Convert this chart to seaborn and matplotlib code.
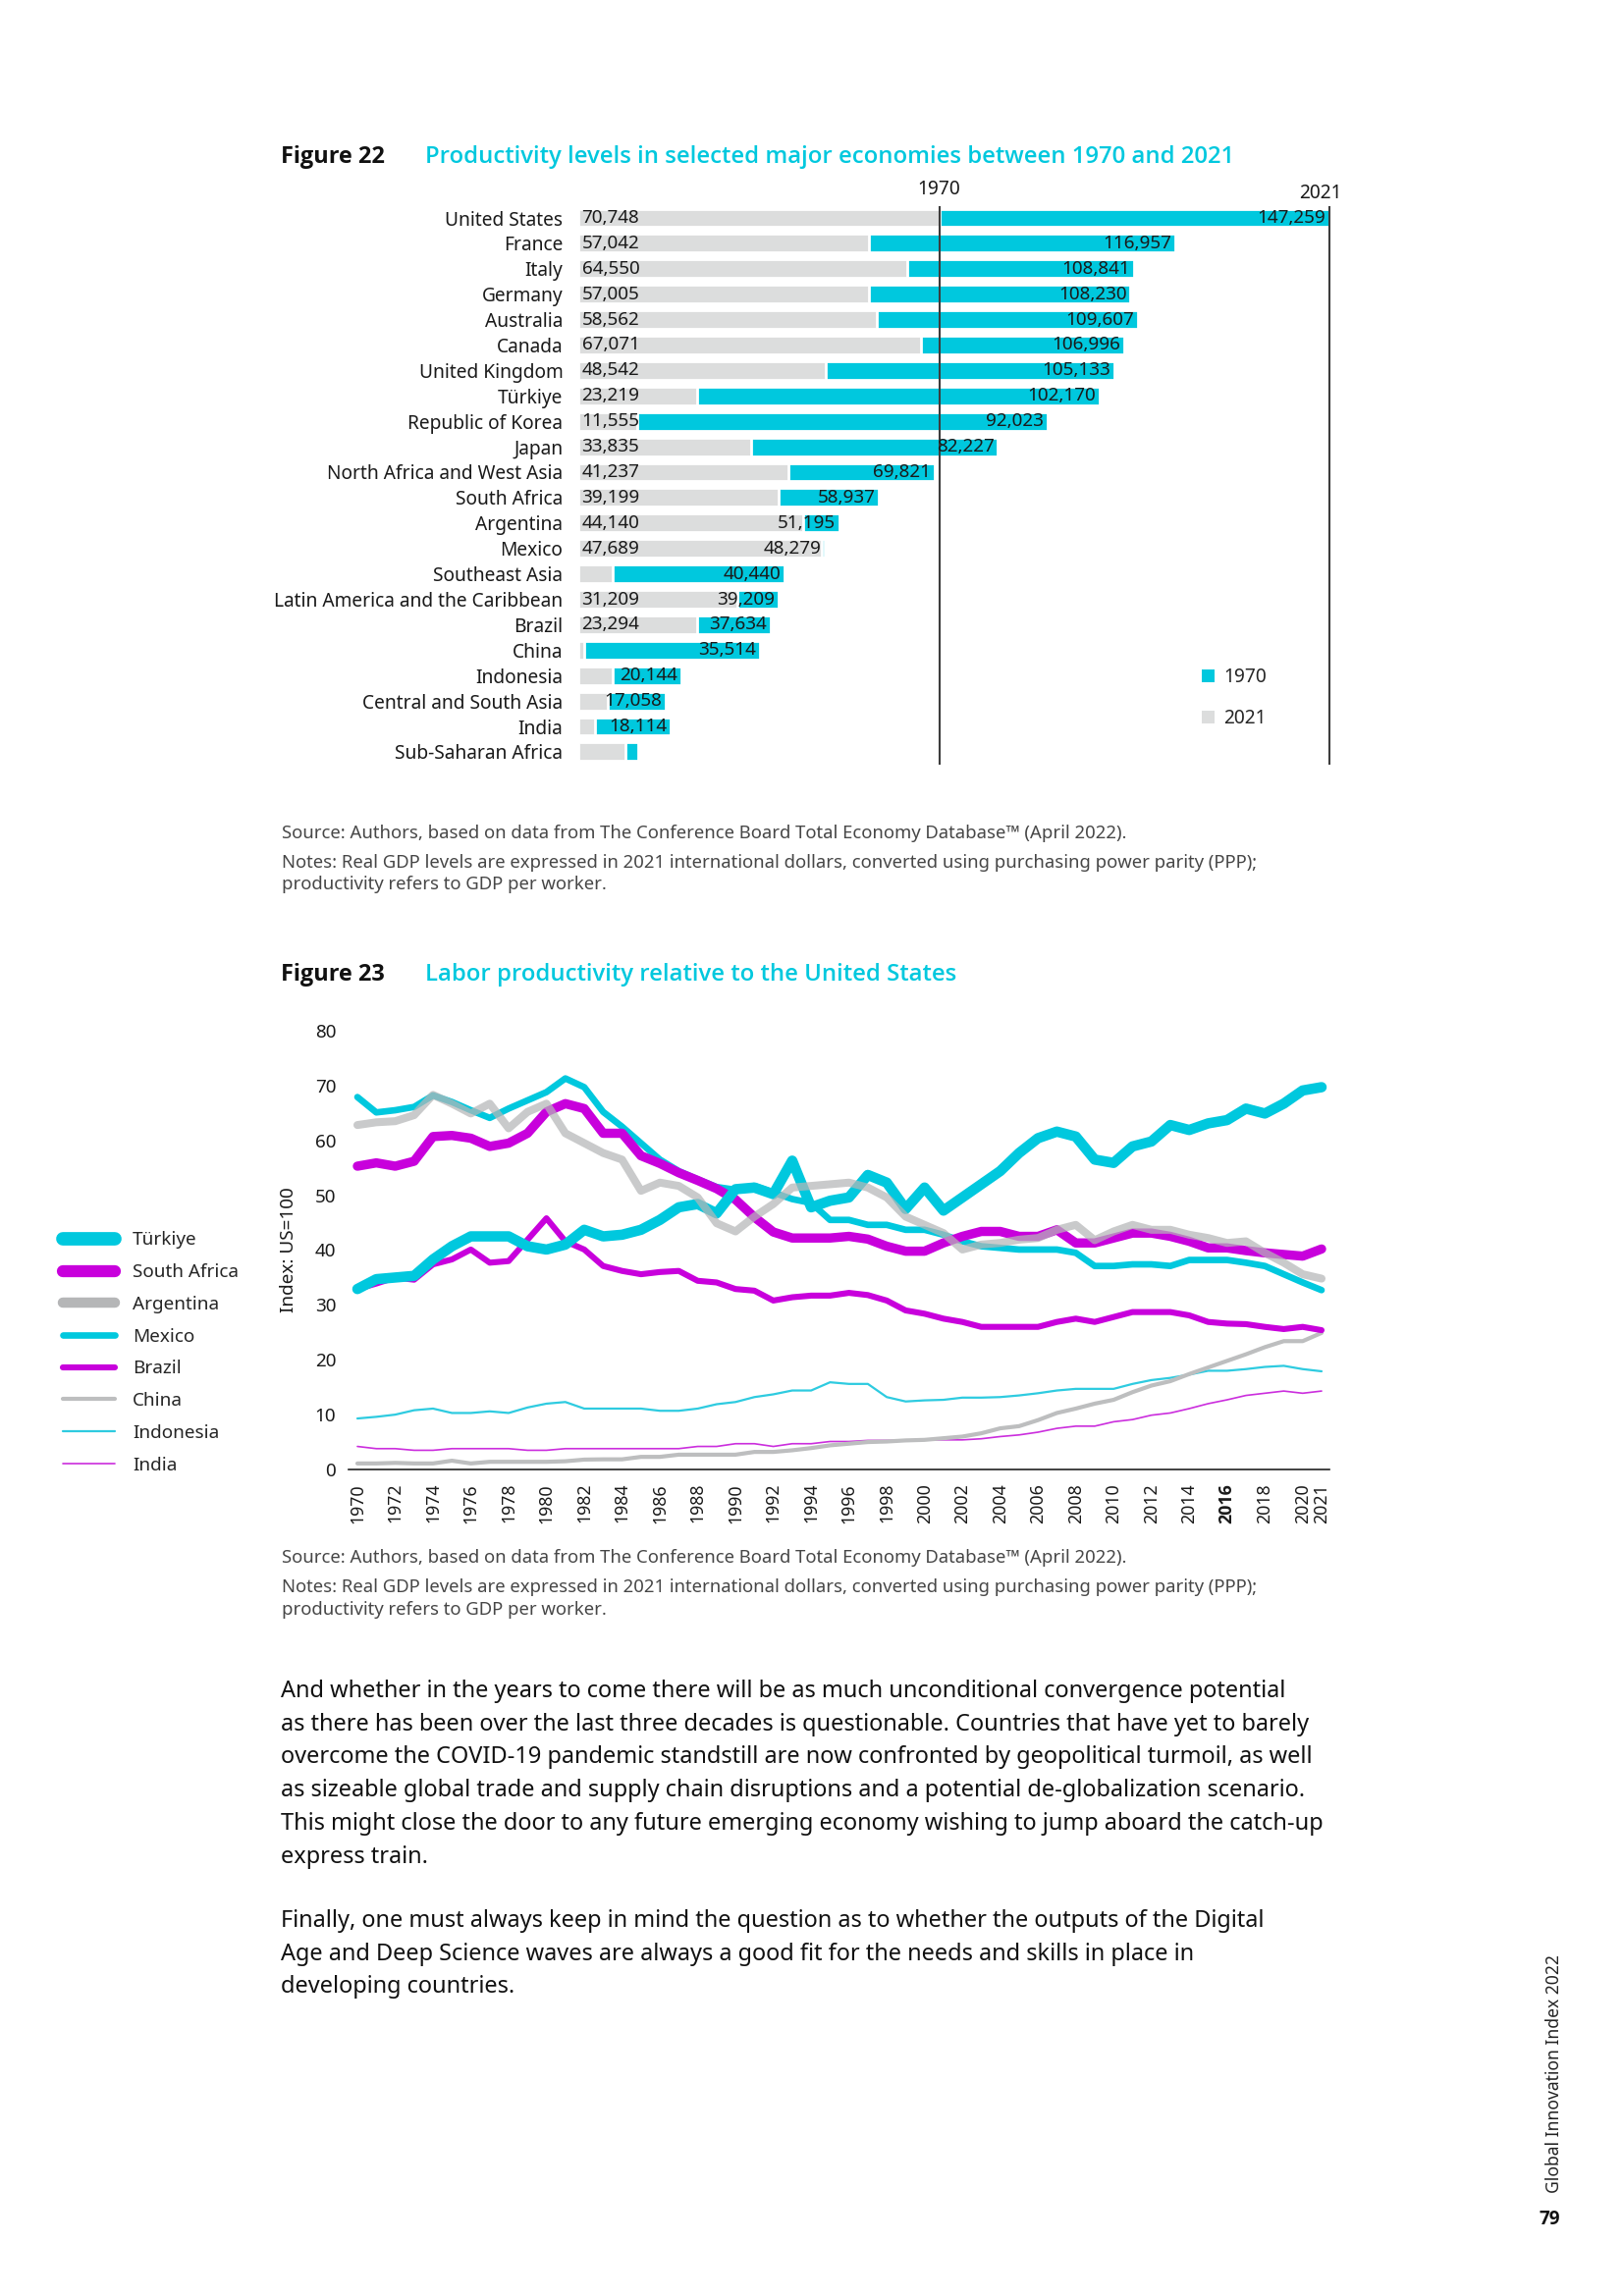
import os
import numpy as np
import pandas as pd
import matplotlib
matplotlib.use("Agg")
import matplotlib.pyplot as plt
from matplotlib import font_manager as fm
import seaborn as sns
from matplotlib.patches import Patch

W, H, DPI = 1653, 2339, 200

sns.set_theme(style="white")
plt.rcParams["font.family"] = ["Noto Sans", "DejaVu Sans"]

CYAN = "#00C8DE"
MAGENTA = "#C800DC"
LIGHTGRAY = "#DCDDDD"
TXT = "#1a1a1a"
SRC = "#474747"


def pick_family(weight, keys):
    for fam in ["Noto Sans", "Open Sans", "Roboto", "Lato", "DejaVu Sans"]:
        try:
            path = fm.findfont(fm.FontProperties(family=fam, weight=weight),
                               fallback_to_default=False)
        except Exception:
            continue
        name = os.path.basename(path).lower()
        if any(k in name for k in keys):
            return fam
    return "DejaVu Sans"


BOLD_FAM = [pick_family("bold", ["bold", "black", "heavy"]), "DejaVu Sans"]
SEMI_FAM = [pick_family(600, ["semibold", "semi", "demi", "medium", "bold"]), "DejaVu Sans"]

# ---------------- Figure 22 data ----------------
countries = ["United States", "France", "Italy", "Germany", "Australia", "Canada",
             "United Kingdom", "Türkiye", "Republic of Korea", "Japan",
             "North Africa and West Asia", "South Africa", "Argentina", "Mexico",
             "Southeast Asia", "Latin America and the Caribbean", "Brazil", "China",
             "Indonesia", "Central and South Asia", "India", "Sub-Saharan Africa"]
prod_1970 = [70748, 57042, 64550, 57005, 58562, 67071, 48542, 23219, 11555, 33835,
             41237, 39199, 44140, 47689, 6700, 31209, 23294, 1100, 6700, 5800, 3300, 9300]
prod_2021 = [147259, 116957, 108841, 108230, 109607, 106996, 105133, 102170, 92023, 82227,
             69821, 58937, 51195, 48279, 40440, 39209, 37634, 35514, 20144, 17058, 18114, 11800]
show_1970 = [True] * 14 + [False, True, True, False, False, False, False, False]
show_2021 = [True] * 21 + [False]
ref_years = ["1970", "2021"]
ref_values = [70748, 147259]

# ---------------- Figure 23 data ----------------
years = list(range(1970, 2022))
turkiye = [32.9, 34.7, 35.0, 35.3, 38.3, 40.7, 42.5, 42.5, 42.5, 40.7,
           40.1, 41.0, 43.7, 42.5, 42.8, 43.7, 45.5, 47.8, 48.4, 46.7,
           51.1, 51.4, 50.2, 56.3, 47.8, 49.0, 49.6, 53.7, 52.3, 47.5,
           51.4, 47.2, 49.6, 52.0, 54.4, 57.7, 60.4, 61.6, 60.7, 56.5,
           55.9, 58.9, 59.8, 62.8, 61.9, 63.1, 63.7, 65.8, 64.9, 66.7,
           69.1, 69.7]
south_africa = [55.3, 55.9, 55.3, 56.2, 60.7, 60.9, 60.4, 58.9, 59.5, 61.3,
                65.2, 66.7, 65.8, 61.3, 61.3, 57.2, 55.8, 54.1, 52.7, 51.2,
                49.2, 46.0, 43.3, 42.2, 42.2, 42.2, 42.5, 42.0, 40.7, 39.8,
                39.8, 41.3, 42.5, 43.4, 43.4, 42.5, 42.5, 43.7, 41.3, 41.3,
                42.2, 43.1, 43.1, 42.5, 41.6, 40.4, 40.4, 39.9, 39.5, 39.2,
                38.9, 40.2]
argentina = [62.8, 63.3, 63.5, 64.6, 68.3, 66.7, 64.9, 66.7, 62.2, 65.2,
             66.7, 61.3, 59.5, 57.7, 56.5, 50.8, 52.3, 51.7, 49.6, 44.9,
             43.4, 46.1, 48.4, 51.4, 51.7, 52.0, 52.3, 51.4, 49.6, 46.1,
             44.6, 43.1, 40.1, 41.0, 41.3, 41.9, 42.2, 43.7, 44.6, 41.8,
             43.4, 44.6, 43.7, 43.7, 42.8, 42.2, 41.3, 41.6, 39.5, 37.7,
             35.6, 34.8]
mexico = [67.9, 65.1, 65.5, 66.1, 68.2, 67.0, 65.5, 64.1, 65.8, 67.3,
          68.8, 71.3, 69.7, 65.2, 62.5, 59.5, 56.5, 54.4, 52.9, 51.5,
          51.0, 51.7, 50.5, 49.3, 48.6, 45.5, 45.5, 44.6, 44.6, 43.7,
          43.7, 42.8, 41.6, 40.7, 40.4, 40.1, 40.1, 40.1, 39.5, 37.1,
          37.1, 37.4, 37.4, 37.1, 38.2, 38.2, 38.2, 37.7, 37.1, 35.6,
          34.1, 32.7]
brazil = [32.9, 33.9, 35.0, 34.6, 37.4, 38.3, 40.1, 37.7, 38.0, 41.9,
          45.8, 41.6, 40.1, 37.1, 36.2, 35.6, 36.0, 36.2, 34.4, 34.1,
          32.9, 32.6, 30.8, 31.4, 31.7, 31.7, 32.2, 31.8, 30.8, 29.0,
          28.4, 27.5, 26.9, 26.0, 26.0, 26.0, 26.0, 26.9, 27.5, 26.9,
          27.8, 28.7, 28.7, 28.7, 28.1, 26.9, 26.6, 26.5, 26.0, 25.6,
          26.0, 25.4]
china = [1.1, 1.1, 1.2, 1.1, 1.1, 1.6, 1.1, 1.4, 1.4, 1.4,
         1.4, 1.5, 1.8, 1.85, 1.85, 2.3, 2.3, 2.7, 2.7, 2.7,
         2.7, 3.2, 3.2, 3.5, 3.9, 4.4, 4.7, 5.0, 5.1, 5.3,
         5.4, 5.7, 6.0, 6.6, 7.5, 7.9, 9.0, 10.3, 11.1, 12.0,
         12.7, 14.1, 15.3, 16.1, 17.4, 18.6, 19.8, 21.0, 22.3, 23.4,
         23.4, 24.9]
indonesia = [9.3, 9.6, 10.0, 10.8, 11.1, 10.3, 10.3, 10.6, 10.3, 11.3,
             12.0, 12.3, 11.1, 11.1, 11.1, 11.1, 10.7, 10.7, 11.1, 11.9,
             12.3, 13.2, 13.7, 14.4, 14.4, 15.9, 15.6, 15.6, 13.2, 12.4,
             12.6, 12.7, 13.1, 13.1, 13.2, 13.5, 13.9, 14.4, 14.7, 14.7,
             14.7, 15.6, 16.3, 16.7, 17.3, 18.0, 18.0, 18.3, 18.7, 18.9,
             18.3, 17.9]
india = [4.2, 3.8, 3.8, 3.5, 3.5, 3.8, 3.8, 3.8, 3.8, 3.5,
         3.5, 3.8, 3.8, 3.8, 3.8, 3.8, 3.8, 3.8, 4.2, 4.2,
         4.7, 4.7, 4.2, 4.7, 4.7, 5.1, 5.1, 5.3, 5.3, 5.3,
         5.4, 5.4, 5.4, 5.6, 6.0, 6.3, 6.8, 7.5, 7.9, 7.9,
         8.7, 9.1, 9.9, 10.3, 11.1, 12.0, 12.7, 13.5, 13.9, 14.3,
         13.9, 14.3]
year_ticks = list(range(1970, 2021, 2)) + [2021]
y_ticks = list(range(0, 81, 10))

# series: name, values, color, linewidth, alpha
series = [
    ("Indonesia", indonesia, "#2ECBE0", 0.8, 1.0),
    ("India", india, "#CB2EDD", 0.6, 1.0),
    ("China", china, "#BDBEBF", 1.5, 1.0),
    ("Brazil", brazil, MAGENTA, 2.2, 1.0),
    ("Mexico", mexico, CYAN, 2.4, 1.0),
    ("South Africa", south_africa, MAGENTA, 3.4, 1.0),
    ("Türkiye", turkiye, CYAN, 3.8, 1.0),
    ("Argentina", argentina, "#B5B6B7", 2.9, 0.72),
]
legend_order = ["Türkiye", "South Africa", "Argentina", "Mexico", "Brazil",
                "China", "Indonesia", "India"]

# ---------------- figure ----------------
fig = plt.figure(figsize=(W / DPI, H / DPI), dpi=DPI)
renderer = fig.canvas.get_renderer()


def fx(x):
    return x / W


def fy(y):
    return 1 - y / H


def fit(t, width, vertical=False):
    bb = t.get_window_extent(renderer)
    w = bb.height if vertical else bb.width
    t.set_fontsize(t.get_fontsize() * width / w)
    return t.get_fontsize()


def ptext(x, y, s, size=8, **kw):
    kw.setdefault("va", "center")
    kw.setdefault("color", TXT)
    return fig.text(fx(x), fy(y), s, fontsize=size, **kw)


# headers
h22 = ptext(286, 166, "Figure 22", va="baseline", weight="bold", family=BOLD_FAM,
            color="#111111")
hs = fit(h22, 106)
t22 = ptext(433, 166, "Productivity levels in selected major economies between 1970 and 2021",
            va="baseline", weight="semibold", family=SEMI_FAM, color=CYAN)
ts = fit(t22, 825)
ptext(286, 999, "Figure 23", size=hs, va="baseline", weight="bold", family=BOLD_FAM,
      color="#111111")
ptext(433, 999, "Labor productivity relative to the United States", size=ts,
      va="baseline", weight="semibold", family=SEMI_FAM, color=CYAN)

# ---------------- bar chart ----------------
pxu = (1354.3 - 589) / 147259.0
ax1 = fig.add_axes([fx(589), fy(790), (1380 - 589) / W, (790 - 200) / H])
bar_df = pd.DataFrame({"country": countries, "y1970": prod_1970, "y2021": prod_2021})
sns.barplot(data=bar_df, x="y2021", y="country", orient="h", color=CYAN,
            saturation=1, width=0.73, ax=ax1, zorder=2)
sns.barplot(data=bar_df, x="y1970", y="country", orient="h", color=LIGHTGRAY,
            saturation=1, width=0.73, ax=ax1, zorder=2)
ax1.set_xlim(0, (1380 - 589) / pxu)
row0, rowstep = 222.0, 25.9
ax1.set_ylim((790 - row0) / rowstep, (200 - row0) / rowstep)
ax1.set_xlabel("")
ax1.set_ylabel("")
ax1.set_xticks([])
ax1.tick_params(axis="y", length=0, pad=5.6, labelsize=6.9, labelcolor=TXT)
for s in ax1.spines.values():
    s.set_visible(False)
ax1.patch.set_alpha(0)

for i, (v0, v1, s0, s1) in enumerate(zip(prod_1970, prod_2021, show_1970, show_2021)):
    if s0:
        ax1.annotate(f"{v0:,}", xy=(0, i), xytext=(1.3, 0), textcoords="offset points",
                     ha="left", va="center", fontsize=6.8, color=TXT, zorder=5)
    if s1:
        ax1.annotate(f"{v1:,}", xy=(v1, i), xytext=(-1.4, 0), textcoords="offset points",
                     ha="right", va="center", fontsize=6.8, color=TXT, zorder=5)

y_top = (210 - row0) / rowstep
y_bot = (779 - row0) / rowstep
ax1.vlines(ref_values, y_top, y_bot, color="#3d3d3d", lw=0.75, zorder=4)
ax1.text(ref_values[0], (193 - row0) / rowstep, ref_years[0], ha="center", va="center",
         fontsize=6.9, color=TXT, clip_on=False)
ax1.text(ref_values[1] - 1800, (197 - row0) / rowstep, ref_years[1], ha="center", va="center",
         fontsize=6.9, color=TXT, clip_on=False)

ax1.legend(handles=[Patch(facecolor=CYAN, edgecolor="none", label="1970"),
                    Patch(facecolor=LIGHTGRAY, edgecolor="none", label="2021")],
           loc="upper left", bbox_to_anchor=(fx(1224), fy(680)),
           bbox_transform=fig.transFigure, frameon=False, fontsize=6.9,
           handlelength=0.7, handleheight=0.7, handletextpad=0.45,
           labelspacing=1.15, borderpad=0, borderaxespad=0)

# source lines figure 22
src_text = "Source: Authors, based on data from The Conference Board Total Economy Database\u2122 (April 2022)."
notes1 = ("Notes: Real GDP levels are expressed in 2021 international dollars, converted using "
          "purchasing power parity (PPP);")
notes2 = "productivity refers to GDP per worker."
s1 = ptext(287, 849, src_text, color=SRC)
ss = fit(s1, 861)
ptext(287, 879, notes1, size=ss, color=SRC)
ptext(287, 901, notes2, size=ss, color=SRC)

# ---------------- line chart ----------------
ax2 = fig.add_axes([fx(355), fy(1497), (1354 - 355) / W, (1497 - 1050) / H])
for name, vals, col, lw, a in series:
    sns.lineplot(x=years, y=vals, ax=ax2, color=col, linewidth=lw, alpha=a,
                 label=name, errorbar=None, solid_capstyle="round",
                 solid_joinstyle="round")
ax2.set_xlim(1970 - 9 / 19.25, 2021 + 8 / 19.25)
ax2.set_ylim(0, 80)
ax2.set_xticks(year_ticks)
ax2.set_xticklabels([str(y) for y in year_ticks], rotation=90)
for lab in ax2.get_xticklabels():
    if lab.get_text() == "2016":
        lab.set_fontweight("bold")
        lab.set_family(BOLD_FAM)
ax2.set_yticks(y_ticks)
ax2.set_yticklabels([str(v) for v in y_ticks])
ax2.tick_params(axis="x", length=0, pad=5.0, labelsize=6.4, labelcolor=TXT)
ax2.tick_params(axis="y", length=0, pad=4.6, labelsize=6.8, labelcolor=TXT)
for side in ["left", "top", "right"]:
    ax2.spines[side].set_visible(False)
ax2.spines["bottom"].set_color("#222222")
ax2.spines["bottom"].set_linewidth(0.6)
ax2.patch.set_alpha(0)
ax2.set_xlabel("")
ax2.set_ylabel("Index: US=100", fontsize=6.8, color=TXT)
ax2.yaxis.set_label_coords(-0.052, 0.5)

handles, labels = ax2.get_legend_handles_labels()
hmap = dict(zip(labels, handles))
leg = ax2.legend([hmap[n] for n in legend_order], legend_order,
                 loc="center left", bbox_to_anchor=(fx(64), fy(1378)),
                 bbox_transform=fig.transFigure, frameon=False, fontsize=6.8,
                 handlelength=2.8, handletextpad=0.95, labelspacing=0.78,
                 borderpad=0, borderaxespad=0)
for lh, name in zip(leg.get_lines(), legend_order):
    if name in ("Türkiye", "South Africa", "Argentina"):
        lh.set_linewidth(lh.get_linewidth() * 1.3)
    lh.set_alpha(1.0)

ptext(287, 1587, src_text, size=ss, color=SRC)
ptext(287, 1617, notes1, size=ss, color=SRC)
ptext(287, 1640, notes2, size=ss, color=SRC)

# ---------------- body text ----------------
para1 = ["And whether in the years to come there will be as much unconditional convergence potential",
         "as there has been over the last three decades is questionable. Countries that have yet to barely",
         "overcome the COVID-19 pandemic standstill are now confronted by geopolitical turmoil, as well",
         "as sizeable global trade and supply chain disruptions and a potential de-globalization scenario.",
         "This might close the door to any future emerging economy wishing to jump aboard the catch-up",
         "express train."]
para2 = ["Finally, one must always keep in mind the question as to whether the outputs of the Digital",
         "Age and Deep Science waves are always a good fit for the needs and skills in place in",
         "developing countries."]
first = ptext(286, 1723, para1[0], color="#111111")
bs = fit(first, 1024)
for k, line in enumerate(para1[1:], start=1):
    ptext(286, 1723 + 33.7 * k, line, size=bs, color="#111111")
for k, line in enumerate(para2):
    ptext(286, 1957 + 33.7 * k, line, size=bs, color="#111111")

# side text and page number
side = ptext(1583, 2113, "Global Innovation Index 2022", rotation=90, ha="center",
             color="#222222")
fit(side, 242, vertical=True)
ptext(1578, 2261, "79", size=6.8, ha="center", weight="bold", family=BOLD_FAM,
      color="#111111")

fig.savefig("out.png", dpi=DPI)
